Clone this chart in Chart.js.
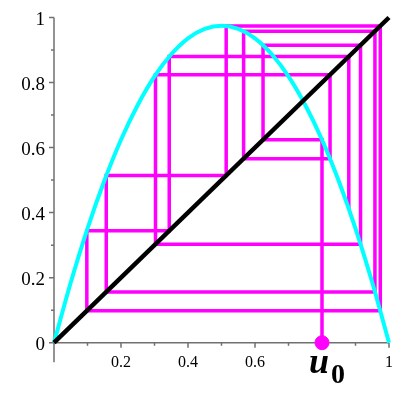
<!DOCTYPE html>
<html>
<head>
<meta charset="utf-8">
<script src="https://cdn.jsdelivr.net/npm/chart.js@4"></script>
<style>
html, body { margin: 0; padding: 0; background: #fff; }
</style>
</head>
<body>
<canvas id="myChart" width="400" height="400"></canvas>
<script>
// logistic curve (peak ~0.975)
var curveX = [0, 0.05, 0.1, 0.15, 0.2, 0.25, 0.3, 0.35, 0.4, 0.45, 0.5, 0.55, 0.6, 0.65, 0.7, 0.75, 0.8, 0.85, 0.9, 0.95, 1];
var curveY = [0, 0.185, 0.351, 0.497, 0.624, 0.731, 0.819, 0.887, 0.936, 0.965, 0.975, 0.965, 0.936, 0.887, 0.819, 0.731, 0.624, 0.497, 0.351, 0.185, 0];

// diagonal y = x
var diagX = [0, 1];
var diagY = [0, 1];

// cobweb iterates u0, u1, ...
var iterates = [0.8, 0.624, 0.915, 0.303, 0.824, 0.566, 0.958, 0.156, 0.514, 0.974, 0.098, 0.344, 0.880, 0.411];

var xTicks = [0.2, 0.4, 0.6, 0.8, 1];
var xTickLabels = ["0.2", "0.4", "0.6", "0.8", "1"];
var yTicks = [0, 0.2, 0.4, 0.6, 0.8, 1];
var yTickLabels = ["0", "0.2", "0.4", "0.6", "0.8", "1"];
var minorTicks = [0.1, 0.3, 0.5, 0.7, 0.9];

function toPoints(xs, ys) {
    return xs.map(function(x, i){ return { x: x, y: ys[i] }; });
}

// cobweb path: up from (u0,0), then zig-zag via the diagonal
var cobweb = [{ x: iterates[0], y: 0 }];
for (var i = 0; i < iterates.length - 1; i++) {
    if (i > 0) cobweb.push({ x: iterates[i], y: iterates[i] });
    cobweb.push({ x: iterates[i], y: iterates[i + 1] });
}

var axisColor = "#707070";

var axesPlugin = {
    id: "mapleAxes",
    beforeDatasetsDraw: function(chart) {
        var c = chart.ctx;
        var xs = chart.scales.x, ys = chart.scales.y;
        var x0 = xs.getPixelForValue(0), y0 = ys.getPixelForValue(0);
        c.save();
        c.strokeStyle = axisColor;
        c.lineWidth = 1.5;
        c.beginPath();
        c.moveTo(x0 - 3, y0);
        c.lineTo(xs.getPixelForValue(1), y0);
        c.moveTo(x0, ys.getPixelForValue(1));
        c.lineTo(x0, ys.getPixelForValue(-0.06));
        xTicks.forEach(function(v){
            var p = xs.getPixelForValue(v);
            c.moveTo(p, y0); c.lineTo(p, y0 + 5);
        });
        yTicks.forEach(function(v){
            var p = ys.getPixelForValue(v);
            c.moveTo(x0, p); c.lineTo(x0 - 5, p);
        });
        minorTicks.forEach(function(v){
            var px = xs.getPixelForValue(v), py = ys.getPixelForValue(v);
            c.moveTo(px, y0); c.lineTo(px, y0 + 3);
            c.moveTo(x0, py); c.lineTo(x0 - 3, py);
        });
        c.stroke();
        c.restore();
    },
    afterDatasetsDraw: function(chart) {
        var c = chart.ctx;
        var xs = chart.scales.x, ys = chart.scales.y;
        var x0 = xs.getPixelForValue(0), y0 = ys.getPixelForValue(0);
        c.save();
        c.fillStyle = "#000";
        c.font = "16px 'Liberation Serif'";
        c.textAlign = "center";
        c.textBaseline = "alphabetic";
        xTicks.forEach(function(v, i){
            c.fillText(xTickLabels[i], xs.getPixelForValue(v), y0 + 24);
        });
        c.font = "19px 'Liberation Serif'";
        c.textAlign = "right";
        yTicks.forEach(function(v, i){
            c.fillText(yTickLabels[i], x0 - 9, ys.getPixelForValue(v) + 7);
        });
        // u0 label
        var ux = xs.getPixelForValue(iterates[0]);
        c.textAlign = "left";
        c.fillStyle = "#fff";
        c.fillRect(ux - 13, y0 + 12, 26, 14);
        c.fillStyle = "#000";
        c.font = "bold italic 36px 'Liberation Serif'";
        c.fillText("u", ux - 13, y0 + 30);
        c.font = "bold 28px 'Liberation Serif'";
        c.fillText("0", ux + 9, y0 + 40);
        c.restore();
    }
};

var ctx = document.getElementById("myChart").getContext("2d");
var chart = new Chart(ctx, {
    type: "scatter",
    data: {
        datasets: [{
            label: "u0",
            data: [{ x: iterates[0], y: 0 }],
            backgroundColor: "#ff00ff",
            borderColor: "#ff00ff",
            pointRadius: 7,
            clip: false
        }, {
            label: "y=x",
            data: toPoints(diagX, diagY),
            showLine: true,
            borderColor: "#000",
            borderWidth: 4.5,
            pointRadius: 0,
            clip: false
        }, {
            label: "f",
            data: toPoints(curveX, curveY),
            showLine: true,
            borderColor: "#00ffff",
            borderWidth: 4,
            pointRadius: 0,
            tension: 0.3,
            clip: false
        }, {
            label: "cobweb",
            data: cobweb,
            showLine: true,
            borderColor: "#ff00ff",
            borderWidth: 3.5,
            borderJoinStyle: "miter",
            pointRadius: 0,
            clip: false
        }]
    },
    options: {
        responsive: false,
        animation: false,
        layout: { padding: { left: 54, right: 11, top: 17.5, bottom: 57.3 } },
        plugins: { legend: { display: false }, tooltip: { enabled: false } },
        scales: {
            x: { type: "linear", min: 0, max: 1, display: false },
            y: { type: "linear", min: 0, max: 1, display: false }
        }
    },
    plugins: [axesPlugin]
});
</script>
</body>
</html>
